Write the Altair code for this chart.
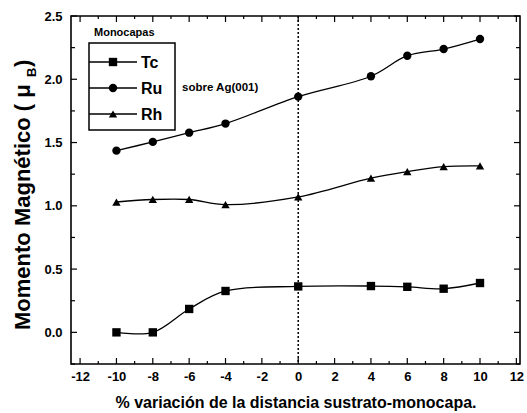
import altair as alt
import pandas as pd

# Variación de la distancia sustrato-monocapa (%)
dist_tc = [-10, -8, -6, -4, 0, 4, 6, 8, 10]
dist_ru = [-10, -8, -6, -4, 0, 4, 6, 8, 10]
dist_rh = [-10, -8, -6, -4, 0, 4, 6, 8, 10]

# Momento magnético (μB) de cada monocapa sobre Ag(001)
mom_tc = [0.00, 0.00, 0.185, 0.327, 0.363, 0.366, 0.36, 0.345, 0.39]
mom_ru = [1.436, 1.505, 1.578, 1.65, 1.863, 2.024, 2.186, 2.239, 2.318]
mom_rh = [1.03, 1.05, 1.05, 1.01, 1.07, 1.219, 1.271, 1.31, 1.316]

series = ["Tc", "Ru", "Rh"]
shapes = ["square", "circle", "triangle-up"]

x_labels = list(range(-12, 13, 2))
x_minor = list(range(-11, 12, 2))
y_labels = [0.0, 0.5, 1.0, 1.5, 2.0, 2.5]
y_minor = [-0.25, 0.25, 0.75, 1.25, 1.75, 2.25]

FONT = "Liberation Sans"
W, H = 449, 348

rows = []
for name, xs, ys in [("Tc", dist_tc, mom_tc), ("Ru", dist_ru, mom_ru), ("Rh", dist_rh, mom_rh)]:
    for xv, yv in zip(xs, ys):
        rows.append({"serie": name, "dist": xv, "mom": yv})
df = pd.DataFrame(rows)

xscale = alt.Scale(domain=[-12.5, 12.2], nice=False, zero=False)
yscale = alt.Scale(domain=[-0.25, 2.5], nice=False, zero=False)

x_axis = alt.Axis(values=x_labels, ticks=False, domain=False, grid=False,
                  labelOverlap=False, labelFlush=False,
                  labelExpr="toString(datum.value)",
                  labelFont=FONT, labelFontWeight="bold", labelFontSize=13,
                  labelColor="black", labelPadding=6,
                  title="% variación de la distancia sustrato-monocapa.",
                  titleFont=FONT, titleFontWeight="bold", titleFontSize=16,
                  titleColor="black", titlePadding=11)
y_axis = alt.Axis(values=y_labels, format=".1f", ticks=False, domain=False, grid=False,
                  labelOverlap=False, labelFlush=False,
                  labelFont=FONT, labelFontWeight="bold", labelFontSize=13,
                  labelColor="black", labelPadding=9, title=None)

xenc = alt.X("dist:Q", scale=xscale, axis=x_axis)
yenc = alt.Y("mom:Q", scale=yscale, axis=y_axis)

base = alt.Chart(df)

lines = base.mark_line(color="black", strokeWidth=1.3, interpolate="catmull-rom").encode(
    x=xenc, y=yenc, detail="serie:N"
)
points = base.mark_point(filled=True, color="black", opacity=1, size=70).encode(
    x=xenc, y=yenc,
    shape=alt.Shape("serie:N", scale=alt.Scale(domain=series, range=shapes), legend=None),
)

# Línea punteada en variación 0
zero_line = alt.Chart(pd.DataFrame({"dist": [0]})).mark_rule(
    color="black", strokeWidth=1.5, strokeDash=[2, 2]
).encode(x=xenc, y=alt.value(0), y2=alt.value(H))

# Marcas de escala hacia adentro en los cuatro lados
def xticks(vals, length):
    d = pd.DataFrame({"dist": vals})
    bottom = alt.Chart(d).mark_rule(color="black", strokeWidth=1.2).encode(
        x=xenc, y=alt.value(H), y2=alt.value(H - length))
    top = alt.Chart(d).mark_rule(color="black", strokeWidth=1.2).encode(
        x=xenc, y=alt.value(0), y2=alt.value(length))
    return [bottom, top]

def yticks(vals, length):
    d = pd.DataFrame({"mom": vals})
    left = alt.Chart(d).mark_rule(color="black", strokeWidth=1.2).encode(
        y=yenc, x=alt.value(0), x2=alt.value(length))
    right = alt.Chart(d).mark_rule(color="black", strokeWidth=1.2).encode(
        y=yenc, x=alt.value(W), x2=alt.value(W - length))
    return [left, right]

tick_layers = xticks(x_labels, 6) + xticks(x_minor, 3) + yticks(y_labels, 6) + yticks(y_minor, 4)

# Leyenda dibujada a mano
one = pd.DataFrame({"k": [0]})
LX0, LX1, LY0, LY1 = 18, 104, 27, 114
legend_layers = [
    alt.Chart(one).mark_rect(fill="white", fillOpacity=0, stroke="black", strokeWidth=1.5).encode(
        x=alt.value(LX0), x2=alt.value(LX1), y=alt.value(LY0), y2=alt.value(LY1)),
    alt.Chart(one).mark_text(text="Monocapas", font=FONT, fontWeight="bold", fontSize=11,
                             align="left", baseline="middle", color="black").encode(
        x=alt.value(23), y=alt.value(17)),
    alt.Chart(one).mark_text(text="sobre  Ag(001)", font=FONT, fontWeight="bold", fontSize=11.5,
                             align="left", baseline="middle", color="black").encode(
        x=alt.value(111), y=alt.value(72)),
]
for i, (name, shp) in enumerate(zip(series, shapes)):
    yy = 46 + i * 26
    legend_layers += [
        alt.Chart(one).mark_rule(color="black", strokeWidth=1.3).encode(
            x=alt.value(LX0), x2=alt.value(66), y=alt.value(yy)),
        alt.Chart(one).mark_point(shape=shp, filled=True, color="black", opacity=1, size=70).encode(
            x=alt.value(42), y=alt.value(yy)),
        alt.Chart(one).mark_text(text=name, font=FONT, fontWeight="bold", fontSize=16,
                                 align="left", baseline="middle", color="black").encode(
            x=alt.value(70), y=alt.value(yy + 1)),
    ]

# Título del eje vertical con subíndice
TX = -41
title_layers = [
    alt.Chart(one).mark_text(text="Momento Magnético (  μ", font=FONT, fontWeight="bold",
                             fontSize=22, angle=270, align="left", baseline="alphabetic",
                             color="black").encode(x=alt.value(TX), y=alt.value(314)),
    alt.Chart(one).mark_text(text="B", font=FONT, fontWeight="bold", fontSize=13, angle=270,
                             align="left", baseline="alphabetic", color="black").encode(
        x=alt.value(TX + 6), y=alt.value(61)),
    alt.Chart(one).mark_text(text=" )", font=FONT, fontWeight="bold", fontSize=22, angle=270,
                             align="left", baseline="alphabetic", color="black").encode(
        x=alt.value(TX), y=alt.value(51)),
]

chart = alt.layer(
    *tick_layers, zero_line, lines, points, *legend_layers, *title_layers
).properties(
    width=W, height=H,
    autosize=alt.AutoSizeParams(type="none"),
    padding={"left": 71, "top": 16, "right": 7, "bottom": 49},
    background="white",
).configure_view(
    stroke="black", strokeWidth=1.6
).configure_axis(
    labelOverlap=False
)

chart.save("out.html", embed_options={"renderer": "svg", "actions": False})
